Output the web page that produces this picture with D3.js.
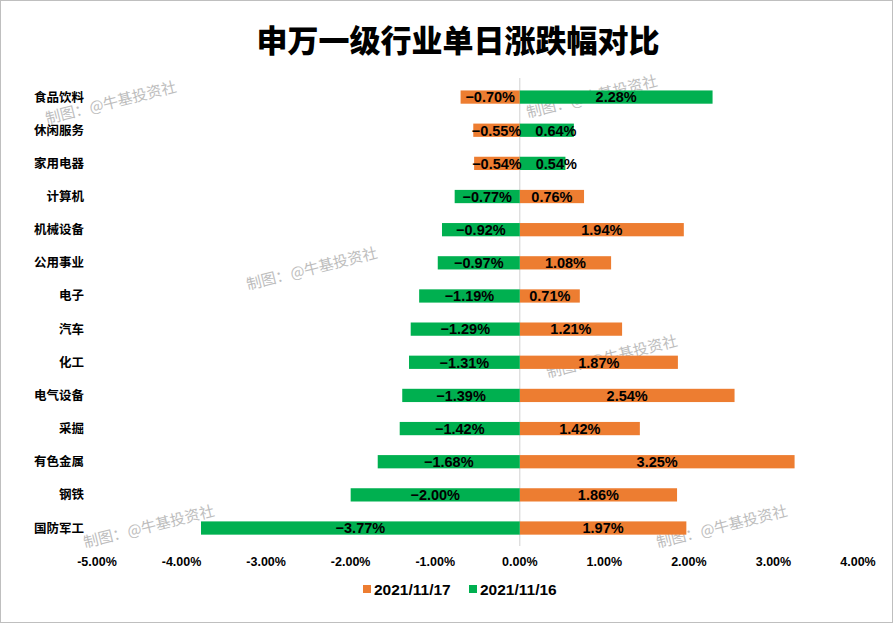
<!DOCTYPE html>
<html><head><meta charset="utf-8">
<script src="https://cdn.jsdelivr.net/npm/d3@7"></script>
<style>
html,body{margin:0;padding:0;background:#fff;}
svg{display:block;}
</style>
</head><body>
<svg id="chart" width="893" height="623"></svg>
<script>
const title = "申万一级行业单日涨跌幅对比";
const categories = ["食品饮料","休闲服务","家用电器","计算机","机械设备","公用事业","电子","汽车","化工","电气设备","采掘","有色金属","钢铁","国防军工"];
const series17 = [-0.70,-0.55,-0.54,0.76,1.94,1.08,0.71,1.21,1.87,2.54,1.42,3.25,1.86,1.97];
const series16 = [2.28,0.64,0.54,-0.77,-0.92,-0.97,-1.19,-1.29,-1.31,-1.39,-1.42,-1.68,-2.00,-3.77];
const seriesNames = ["2021/11/17","2021/11/16"];
const seriesColors = ["#ED7D31","#00B050"];
const xTicks = [-5,-4,-3,-2,-1,0,1,2,3,4];
const watermark = "制图：@牛基投资社";
const watermarkSpots = [[47,124],[528,118],[248,290],[548,378],[85,548],[658,548]];

const svg = d3.select("#chart");
const W = 893, H = 623;
const latin = "'Liberation Sans', Arial, sans-serif";
const cjk = "'Noto Sans CJK SC', 'Liberation Sans', sans-serif";

svg.append("rect").attr("x",0.5).attr("y",0.5).attr("width",W-1).attr("height",H-1)
  .attr("fill","#fff").attr("stroke","#bfbfbf").attr("stroke-width",1);

svg.append("text").attr("x",458).attr("y",52).attr("text-anchor","middle")
  .attr("font-family",cjk).attr("font-weight",900).attr("font-size",31).attr("fill","#000")
  .text(title);

const x = d3.scaleLinear().domain([-5,4]).range([97,858]);
const y = d3.scaleBand().domain(categories).range([80.5,544.6]).paddingInner(0.6).paddingOuter(0.3);

// watermarks
const wm = svg.append("g");
watermarkSpots.forEach(([wx,wy])=>{
  wm.append("text").attr("transform",`translate(${wx},${wy}) rotate(-14)`)
    .attr("font-family",cjk).attr("font-size",15).attr("fill","#bdbdbd")
    .text(watermark);
});

// zero line
svg.append("line").attr("x1",x(0)).attr("x2",x(0)).attr("y1",78).attr("y2",546)
  .attr("stroke","#d9d9d9").attr("stroke-width",1.2);

const allSeries = [series17, series16];
allSeries.forEach((vals,si)=>{
  svg.append("g").selectAll("rect").data(vals).join("rect")
    .attr("x",d=>x(Math.min(0,d)))
    .attr("width",d=>Math.abs(x(d)-x(0)))
    .attr("y",(d,i)=>y(categories[i]))
    .attr("height",y.bandwidth())
    .attr("fill",seriesColors[si]);
});

// category labels
svg.append("g").selectAll("text").data(categories).join("text")
  .attr("x",84).attr("y",d=>y(d)+y.bandwidth()/2).attr("dy","0.36em")
  .attr("text-anchor","end").attr("font-family",cjk).attr("font-weight",700)
  .attr("font-size",12.5).attr("fill","#000").text(d=>d);

// data labels
const fmt = v => d3.format(".2f")(v).replace("-","–") + "%";
const lab = svg.append("g");
categories.forEach((c,i)=>{
  const vals = [series17[i], series16[i]];
  const nodes = vals.map(v=>{
    const cx = (x(0)+x(v))/2;
    const t = lab.append("text").attr("x",cx).attr("y",y(c)+y.bandwidth()/2).attr("dy","0.37em")
      .attr("text-anchor","middle").attr("font-family",latin).attr("font-weight",700)
      .attr("font-size",14.5).attr("fill","#000").text(fmt(v));
    return {v, t, cx, w: t.node().getComputedTextLength()};
  });
  const pos = nodes.find(n=>n.v>=0), neg = nodes.find(n=>n.v<0);
  if (pos && neg) {
    const negRight = neg.cx + neg.w/2;
    const posLeft = pos.cx - pos.w/2;
    if (posLeft < negRight + 14) {
      pos.t.attr("x", negRight + 14 + pos.w/2);
    }
  }
});

// x axis labels
svg.append("g").selectAll("text").data(xTicks).join("text")
  .attr("x",d=>x(d)).attr("y",566).attr("text-anchor","middle")
  .attr("font-family",latin).attr("font-weight",700).attr("font-size",12.5).attr("fill","#000")
  .text(d=>d3.format(".2f")(d).replace("−","-")+"%");

// legend
const lg = svg.append("g");
const legendX = [363, 469];
seriesNames.forEach((n,i)=>{
  lg.append("rect").attr("x",legendX[i]).attr("y",585).attr("width",8).attr("height",8).attr("fill",seriesColors[i]);
  lg.append("text").attr("x",legendX[i]+11).attr("y",594.5)
    .attr("font-family",latin).attr("font-weight",700).attr("font-size",15.5).attr("fill","#000").text(n);
});
</script>
</body></html>
